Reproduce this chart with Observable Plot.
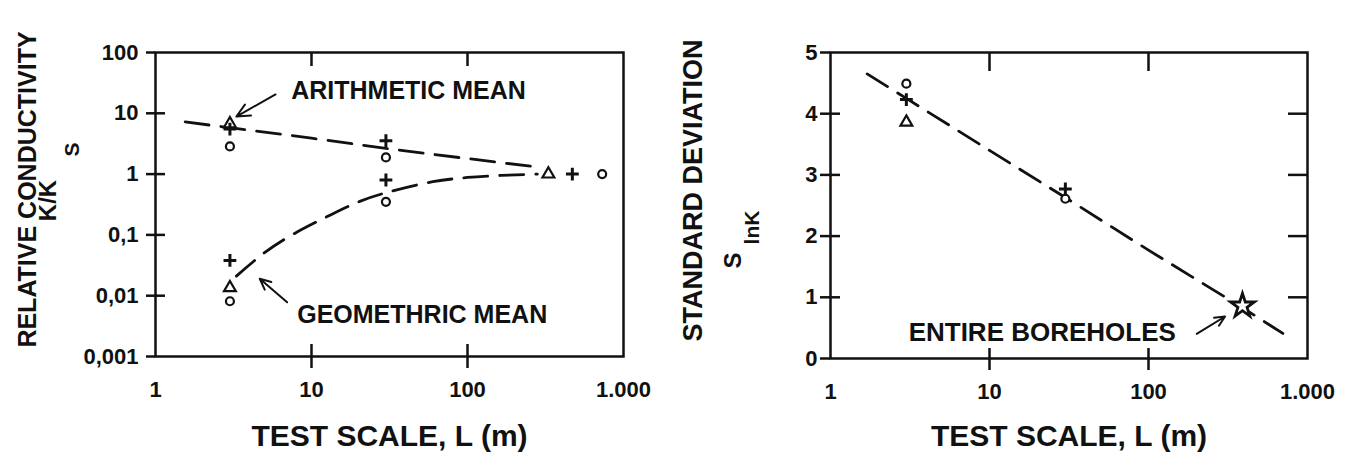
<!DOCTYPE html>
<html><head><meta charset="utf-8">
<script src="https://cdn.jsdelivr.net/npm/d3@7"></script>
<script src="https://cdn.jsdelivr.net/npm/@observablehq/plot@0.6"></script>
<style>
html,body{margin:0;padding:0;background:#fff;}
#wrap{display:flex;width:1346px;height:463px;overflow:hidden;}
#wrap svg{flex:none;}
</style></head><body><div id="wrap"></div>
<script>
// ---- tick values and labels ----
const scaleTicks = [1, 10, 100, 1000];
const scaleTickLabels = ["1", "10", "100", "1.000"];
const relTicks = [0.001, 0.01, 0.1, 1, 10, 100];
const relTickLabels = ["0,001", "0,01", "0,1", "1", "10", "100"];
const sdTicks = [0, 1, 2, 3, 4, 5];
const sdTickLabels = ["0", "1", "2", "3", "4", "5"];

// ---- left panel: relative conductivity K/Ks ----
const relL   = [3, 3, 3, 30, 30, 3, 3, 3, 30, 30, 330, 470, 730];
const relK   = [6.7, 5.5, 2.85, 3.55, 1.88, 0.038, 0.0135, 0.0081, 0.8, 0.35, 1, 1, 1];
const relSym = ["triangle", "plus", "circle", "plus", "circle", "plus", "triangle", "circle", "plus", "circle", "triangle", "plus", "circle"];

const arithL = [1.55, 3, 10, 30, 100, 285];
const arithK = [7.2, 5.8, 3.9, 2.65, 1.8, 1.3];
const geomL  = [3.3, 5, 7.3, 12.6, 20.6, 30.5, 60, 100, 163, 280];
const geomK  = [0.021, 0.051, 0.096, 0.2, 0.36, 0.5, 0.75, 0.88, 0.95, 1.0];

const relNoteText = ["ARITHMETIC MEAN", "GEOMETHRIC MEAN"];
const relNoteL = [7.41, 8.1];
const relNoteK = [23.3, 0.0048];
const relArrowL1 = [5.88, 6.98], relArrowK1 = [20.4, 0.0078];
const relArrowL2 = [3.3, 4.66],  relArrowK2 = [8.85, 0.019];

// ---- right panel: standard deviation of ln K ----
const sdL   = [3, 3, 3, 30, 30];
const sdV   = [4.49, 4.23, 3.86, 2.77, 2.61];
const sdSym = ["circle", "plus", "triangle", "plus", "circle"];
const starL = [390], starV = [0.86];
const sdLineL = [1.7, 3, 10, 30, 100, 390, 700];
const sdLineV = [4.65, 4.25, 3.4, 2.63, 1.77, 0.83, 0.41];
const sdNoteText = ["ENTIRE BOREHOLES"];
const sdNoteL = [3.1], sdNoteV = [0.417];
const sdArrowL1 = [201], sdArrowV1 = [0.404];
const sdArrowL2 = [303], sdArrowV2 = [0.686];

// ---- build tables ----
const relPts = relL.map((L, i) => ({L, K: relK[i], s: relSym[i]}));
const arith = arithL.map((L, i) => ({L, K: arithK[i]}));
const geom = geomL.map((L, i) => ({L, K: geomK[i]}));
const relNotes = relNoteText.map((t, i) => ({t, L: relNoteL[i], K: relNoteK[i]}));
const relArrows = relArrowL1.map((L, i) => ({x1: L, y1: relArrowK1[i], x2: relArrowL2[i], y2: relArrowK2[i]}));
const sdPts = sdL.map((L, i) => ({L, V: sdV[i], s: sdSym[i]}));
const star = starL.map((L, i) => ({L, V: starV[i]}));
const sdLine = sdLineL.map((L, i) => ({L, V: sdLineV[i]}));
const sdNotes = sdNoteText.map((t, i) => ({t, L: sdNoteL[i], V: sdNoteV[i]}));
const sdArrows = sdArrowL1.map((L, i) => ({x1: L, y1: sdArrowV1[i], x2: sdArrowL2[i], y2: sdArrowV2[i]}));

const INK = "#111";
const FONT = "'Liberation Sans', Arial, Helvetica, sans-serif";
const lab = (ticks, labels) => d => labels[ticks.indexOf(d)];
const none = () => "";
const style = {fontFamily: FONT, fontWeight: "bold", fontSize: "22px", color: INK, background: "#fff"};
const dash = "24,12";
const TICKFS = 22;
const vtitle = {frameAnchor: "left", textAnchor: "middle", lineAnchor: "middle", rotate: -90, fill: INK};

function dots(data, x, y) {
  return [
    Plot.dot(data, {filter: d => d.s === "circle", x, y, symbol: "circle", r: 4, fill: "white", stroke: INK, strokeWidth: 2.2}),
    Plot.dot(data, {filter: d => d.s === "triangle", x, y, symbol: "triangle", r: 4.4, fill: "white", stroke: INK, strokeWidth: 2.2}),
    Plot.dot(data, {filter: d => d.s === "plus", x, y, symbol: "plus", r: 4.2, stroke: INK, strokeWidth: 3})
  ];
}

const left = Plot.plot({
  width: 673, height: 463,
  marginLeft: 155, marginRight: 50, marginTop: 52, marginBottom: 107,
  style,
  x: {type: "log", domain: [1, 1000]},
  y: {type: "log", domain: [0.001, 100]},
  marks: [
    Plot.frame({stroke: INK, strokeWidth: 2.5}),
    Plot.axisX({ticks: scaleTicks, tickSize: 0, tickPadding: 25, tickFormat: lab(scaleTicks, scaleTickLabels), fontSize: TICKFS, label: null}),
    Plot.axisX({ticks: [10, 100], tickSize: 12, tickFormat: none, strokeWidth: 2.5, label: null}),
    Plot.axisX({ticks: [10, 100], tickSize: -12, tickFormat: none, strokeWidth: 2.5, label: null}),
    Plot.axisX({anchor: "top", ticks: [10, 100], tickSize: -13, tickFormat: none, strokeWidth: 2.5, label: null}),
    Plot.axisY({ticks: relTicks, tickSize: 9, tickPadding: 8, tickFormat: lab(relTicks, relTickLabels), fontSize: TICKFS, strokeWidth: 2.5, label: null}),
    Plot.axisY({ticks: relTicks.slice(1, -1), tickSize: -10, tickFormat: none, strokeWidth: 2.5, label: null}),
    Plot.line(arith, {x: "L", y: "K", stroke: INK, strokeWidth: 2.8, strokeDasharray: dash}),
    Plot.line(geom, {x: "L", y: "K", stroke: INK, strokeWidth: 2.8, strokeDasharray: dash, curve: "catmull-rom"}),
    ...dots(relPts, "L", "K"),
    Plot.arrow(relArrows, {x1: "x1", y1: "y1", x2: "x2", y2: "y2", stroke: INK, strokeWidth: 2, headLength: 11, headAngle: 50}),
    Plot.text(relNotes, {x: "L", y: "K", text: "t", textAnchor: "start", fontSize: 25, fill: INK}),
    Plot.text(["RELATIVE CONDUCTIVITY"], {...vtitle, dx: -128, dy: -15, fontSize: 25}),
    Plot.text(["K/K"], {...vtitle, dx: -107, dy: -4, fontSize: 24}),
    Plot.text(["S"], {...vtitle, dx: -83, dy: -55, fontSize: 21}),
    Plot.text(["TEST SCALE, L (m)"], {frameAnchor: "bottom", textAnchor: "middle", lineAnchor: "middle", dy: 80, fontSize: 30, fill: INK})
  ]
});

const right = Plot.plot({
  width: 673, height: 463,
  marginLeft: 157, marginRight: 39, marginTop: 52, marginBottom: 105,
  style,
  x: {type: "log", domain: [1, 1000]},
  y: {type: "linear", domain: [0, 5]},
  marks: [
    Plot.frame({stroke: INK, strokeWidth: 2.5}),
    Plot.axisX({ticks: scaleTicks, tickSize: 0, tickPadding: 25, tickFormat: lab(scaleTicks, scaleTickLabels), fontSize: TICKFS, label: null}),
    Plot.axisX({ticks: [10, 100], tickSize: 12, tickFormat: none, strokeWidth: 2.5, label: null}),
    Plot.axisX({ticks: [10, 100], tickSize: -10, tickFormat: none, strokeWidth: 2.5, label: null}),
    Plot.axisX({anchor: "top", ticks: [10, 100], tickSize: -18, tickFormat: none, strokeWidth: 2.5, label: null}),
    Plot.axisY({ticks: sdTicks, tickSize: 10, tickPadding: 3, tickFormat: lab(sdTicks, sdTickLabels), fontSize: TICKFS, strokeWidth: 2.5, label: null}),
    Plot.axisY({ticks: [1, 2, 3, 4], tickSize: -10, tickFormat: none, strokeWidth: 2.5, label: null}),
    Plot.axisY({anchor: "right", ticks: [1, 2, 3, 4], tickSize: -20, tickFormat: none, strokeWidth: 2.5, label: null}),
    Plot.line(sdLine, {x: "L", y: "V", stroke: INK, strokeWidth: 2.8, strokeDasharray: dash}),
    ...dots(sdPts, "L", "V"),
    Plot.dot(star, {x: "L", y: "V", symbol: "star", r: 7.5, fill: "white", stroke: INK, strokeWidth: 2.8}),
    Plot.arrow(sdArrows, {x1: "x1", y1: "y1", x2: "x2", y2: "y2", stroke: INK, strokeWidth: 2, headLength: 11, headAngle: 50}),
    Plot.text(sdNotes, {x: "L", y: "V", text: "t", textAnchor: "start", fontSize: 26, fill: INK}),
    Plot.text(["STANDARD DEVIATION"], {...vtitle, dx: -137, dy: -15, fontSize: 27}),
    Plot.text(["S"], {...vtitle, dx: -97, dy: 55, fontSize: 24}),
    Plot.text(["lnK"], {...vtitle, dx: -78, dy: 22, fontSize: 21}),
    Plot.text(["TEST SCALE, L (m)"], {frameAnchor: "bottom", textAnchor: "middle", lineAnchor: "middle", dy: 78, fontSize: 30, fill: INK})
  ]
});

document.getElementById("wrap").append(left, right);
</script>
</body></html>
